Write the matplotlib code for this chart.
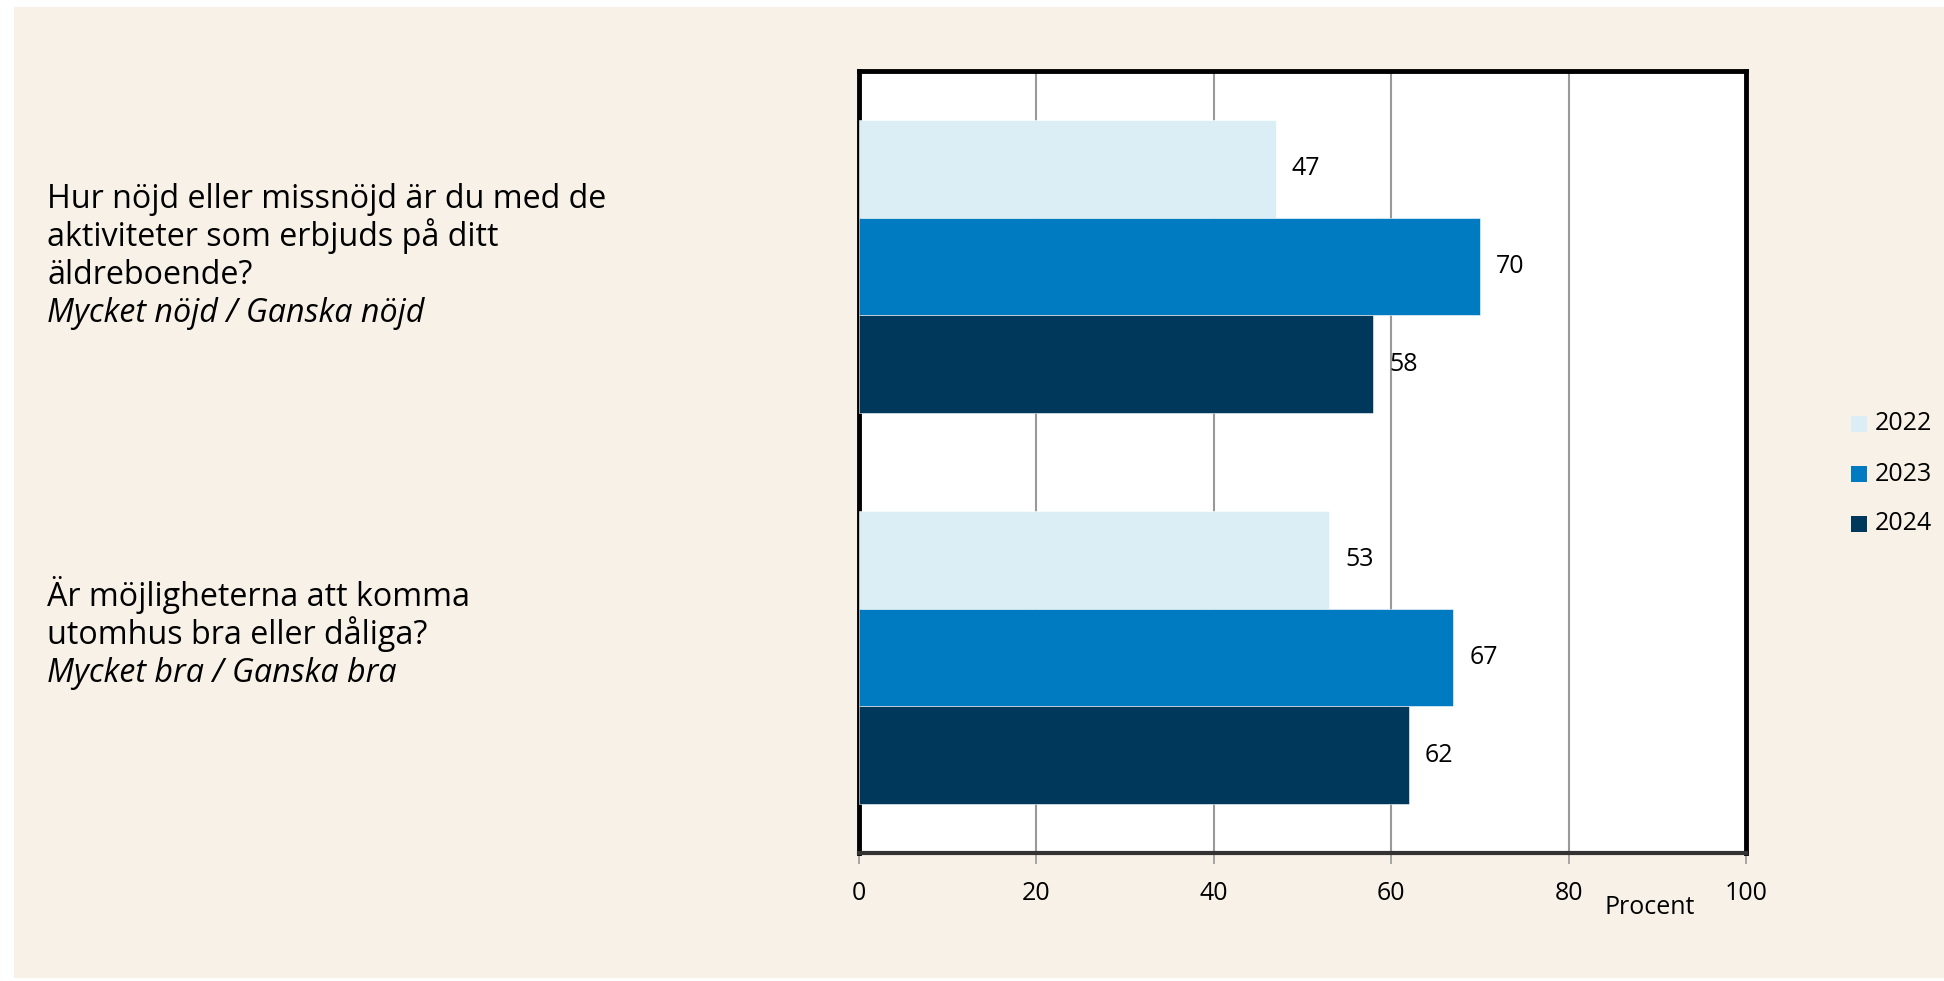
import matplotlib.pyplot as plt
from matplotlib.patches import Rectangle
import numpy as np

plt.rcParams['font.family'] = ['Open Sans', 'DejaVu Sans']

questions = [
    ["Hur nöjd eller missnöjd är du med de", "aktiviteter som erbjuds på ditt", "äldreboende?"],
    ["Är möjligheterna att komma", "utomhus bra eller dåliga?"],
]
answers = ["Mycket nöjd / Ganska nöjd", "Mycket bra / Ganska bra"]
years = ["2022", "2023", "2024"]
values_2022 = [47, 53]
values_2023 = [70, 67]
values_2024 = [58, 62]
colors = ["#DBEEF5", "#007AC0", "#00385C"]
xticks = [0, 20, 40, 60, 80, 100]

bg = "#F8F1E8"
fs = 18
qfs = 23.2

fig = plt.figure(figsize=(19.44, 9.81), dpi=100)
fig.patches.append(Rectangle((14 / 1944, 3 / 981), 1 - 14 / 1944, 971 / 981,
                             transform=fig.transFigure, facecolor=bg,
                             edgecolor='none', zorder=-10))

ax = fig.add_axes([859 / 1944, 1 - 853 / 981, 887 / 1944, 782 / 981])
ax.set_facecolor('white')

y = np.arange(len(questions))
h = 0.25
series = [values_2022, values_2023, values_2024]
for i, (vals, yr, c) in enumerate(zip(series, years, colors)):
    pos = y + (i - 1) * h
    ax.barh(pos, vals, height=h, color=c, label=yr, zorder=3,
            edgecolor='white', linewidth=0.4)
    for p, v in zip(pos, vals):
        ax.annotate(str(v), (v, p), xytext=(11.5, 0), textcoords='offset points',
                    va='center', ha='left', fontsize=fs, zorder=5)

ax.set_xlim(0, 100)
ax.set_ylim(1.5, -0.5)
ax.set_xticks(xticks)
ax.set_xticklabels([str(t) for t in xticks], fontsize=fs)
ax.set_yticks([])
ax.grid(axis='x', color='#999999', linewidth=1.5, zorder=1)
ax.tick_params(axis='x', length=8, width=1.2, color='#999999', pad=12)

for side in ['top', 'left', 'right']:
    ax.spines[side].set_color('black')
    ax.spines[side].set_linewidth(3.5)
ax.spines['bottom'].set_color('#333333')
ax.spines['bottom'].set_linewidth(3)

fig.text(1650 / 1944, 1 - 908 / 981, "Procent", fontsize=fs, ha='center', va='center')

# question labels on the left, one line at a time (baseline positions in px)
first_baselines = [208, 606]
step = 38
for lines, a, b0 in zip(questions, answers, first_baselines):
    for k, line in enumerate(lines):
        fig.text(47 / 1944, 1 - (b0 + k * step) / 981, line, fontsize=qfs,
                 ha='left', va='baseline')
    fig.text(47 / 1944, 1 - (b0 + len(lines) * step) / 981, a, fontsize=qfs,
             ha='left', va='baseline', style='italic')

# legend
for i, (yr, c) in enumerate(zip(years, colors)):
    yc = 1 - (424 + i * 50) / 981
    fig.patches.append(Rectangle((1851 / 1944, yc - 8 / 981), 16 / 1944, 16 / 981,
                                 transform=fig.transFigure, facecolor=c,
                                 edgecolor='none'))
    fig.text(1875 / 1944, yc, yr, fontsize=fs, ha='left', va='center')

fig.savefig("out.png", dpi=100, facecolor='white')
